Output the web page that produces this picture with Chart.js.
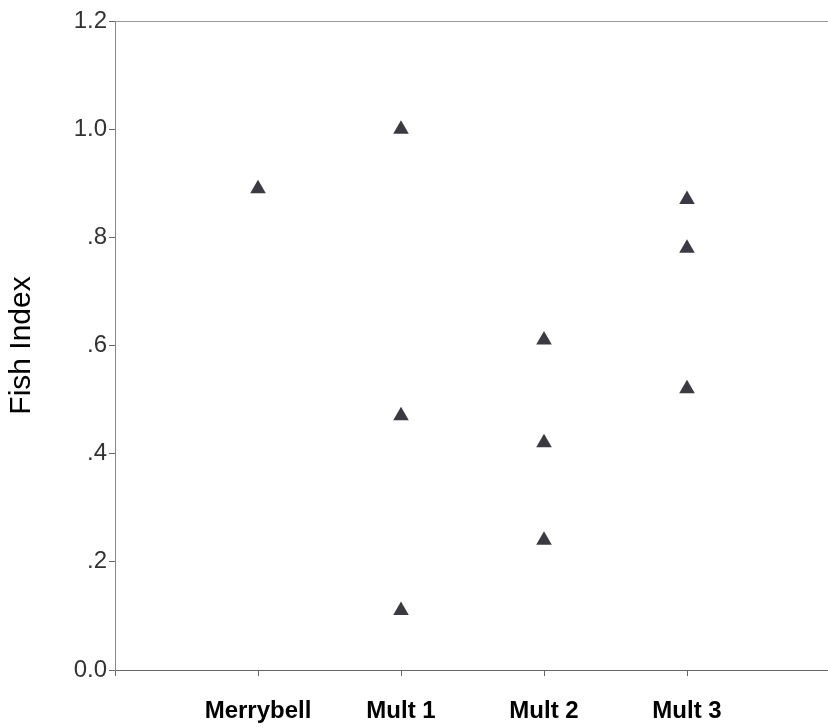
<!DOCTYPE html>
<html>
<head>
<meta charset="utf-8">
<script src="https://cdn.jsdelivr.net/npm/chart.js@4/dist/chart.umd.min.js"></script>
<style>
  html, body { margin: 0; padding: 0; background: #fff; overflow: hidden; }
  #wrap { width: 828px; height: 728px; overflow: hidden; }
  /* the plot runs off the right edge, as in the printed figure */
  #c { display: block; }
</style>
</head>
<body>
<div id="wrap"><canvas id="c" width="839" height="728"></canvas></div>
<script>
// Sites along the x axis (blank slots pad the ends of the axis)
const categories = ['Merrybell', 'Mult 1', 'Mult 2', 'Mult 3'];
const axisSlots = [''].concat(categories, ['']);

// Fish index values observed at each site
const merrybell = [0.89];
const mult1 = [1.00, 0.47, 0.11];
const mult2 = [0.61, 0.42, 0.24];
const mult3 = [0.87, 0.78, 0.52];

// Y tick labels
const yTickLabels = { 0: '0.0', 0.2: '.2', 0.4: '.4', 0.6: '.6', 0.8: '.8', 1: '1.0', 1.2: '1.2' };

const seriesBySite = [merrybell, mult1, mult2, mult3];
const points = [];
seriesBySite.forEach((vals, i) => {
  vals.forEach(v => points.push({ x: categories[i], y: v }));
});

new Chart(document.getElementById('c'), {
  type: 'scatter',
  data: {
    labels: axisSlots,
    datasets: [{
      data: points,
      pointStyle: 'triangle',
      pointRadius: 9,
      pointHoverRadius: 9,
      backgroundColor: '#3b3a42',
      borderColor: '#3b3a42',
      borderWidth: 0
    }]
  },
  options: {
    responsive: false,
    animation: false,
    layout: { padding: { top: 21, right: 0, left: 0, bottom: 0 } },
    plugins: { legend: { display: false }, tooltip: { enabled: false } },
    scales: {
      x: {
        type: 'category',
        labels: axisSlots,
        offset: false,
        afterFit: s => { s.height = 58; s.paddingRight = 0; s.paddingLeft = 0; },
        border: { display: true, color: '#666', width: 1 },
        grid: { drawOnChartArea: false, drawTicks: true, tickLength: 6, color: '#666' },
        ticks: {
          autoSkip: false,
          maxRotation: 0,
          padding: 21,
          color: '#000',
          font: { family: 'Liberation Sans, Arial, sans-serif', size: 24, weight: 'bold' }
        }
      },
      y: {
        min: 0,
        max: 1.2,
        afterFit: s => { s.width = 115; },
        border: { display: true, color: '#888', width: 1 },
        grid: {
          drawTicks: true,
          tickLength: 6,
          tickColor: '#666',
          color: ctx => (ctx.tick && Math.abs(ctx.tick.value - 1.2) < 1e-6) ? '#999' : 'rgba(0,0,0,0)'
        },
        ticks: {
          stepSize: 0.2,
          padding: 2,
          color: '#333',
          font: { family: 'Liberation Sans, Arial, sans-serif', size: 24 },
          callback: v => yTickLabels[Math.round(v * 10) / 10] ?? ''
        },
        title: {
          display: true,
          text: 'Fish Index',
          color: '#000',
          padding: { top: 4, bottom: 0 },
          font: { family: 'Liberation Sans, Arial, sans-serif', size: 30 }
        }
      }
    }
  }
});
</script>
</body>
</html>
